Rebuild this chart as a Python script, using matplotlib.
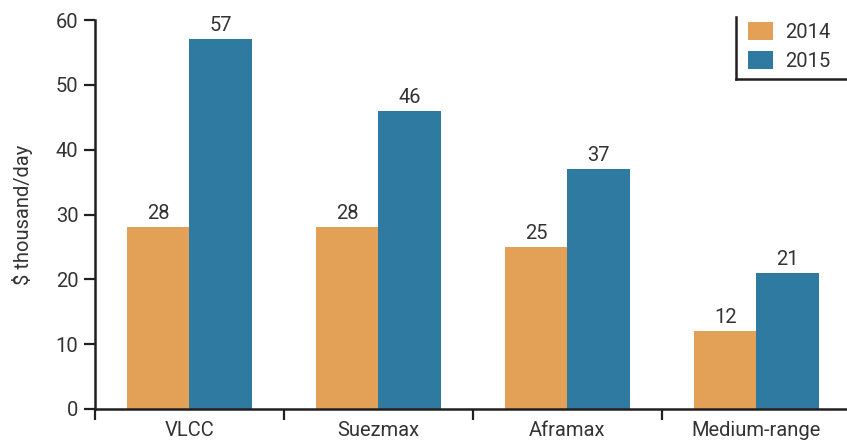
import matplotlib
matplotlib.use("Agg")
import matplotlib.pyplot as plt
from matplotlib.lines import Line2D
import numpy as np

categories = ["VLCC", "Suezmax", "Aframax", "Medium-range"]
series_names = ["2014", "2015"]
values_2014 = [28, 28, 25, 12]
values_2015 = [57, 46, 37, 21]
y_ticks = [0, 10, 20, 30, 40, 50, 60]

c2014 = "#E3A157"
c2015 = "#2E7AA1"
text_c = "#333333"
axis_c = "#231F20"
fs = 14.5

plt.rcParams["font.family"] = ["Liberation Sans Narrow", "Roboto", "DejaVu Sans"]

fig = plt.figure(figsize=(8.47, 4.43), dpi=100)
ax = fig.add_axes([95 / 847, 1 - 409 / 443, 1 - 95 / 847, (409 - 20) / 443])

x = np.arange(len(categories))
w = 0.33
b1 = ax.bar(x - w / 2, values_2014, w, color=c2014, label=series_names[0], zorder=2)
b2 = ax.bar(x + w / 2, values_2015, w, color=c2015, label=series_names[1], zorder=2)

for bars, vals in ((b1, values_2014), (b2, values_2015)):
    for rect, v in zip(bars, vals):
        ax.annotate(f"{v}", (rect.get_x() + rect.get_width() / 2, v),
                    xytext=(0, 3), textcoords="offset points",
                    ha="center", va="bottom", fontsize=fs, color=text_c)

ax.set_xlim(-0.5, 3.48)
ax.set_ylim(0, 60)
ax.set_yticks(y_ticks)
ax.set_yticklabels([str(t) for t in y_ticks], fontsize=fs, color=text_c)

# boundary ticks between categories, labels centred under each group
ax.set_xticks([-0.5, 0.5, 1.5, 2.5])
ax.set_xticklabels([])
ax.set_xticks(x, minor=True)
ax.set_xticklabels(categories, minor=True, fontsize=fs, color=text_c)
ax.tick_params(axis="x", which="minor", length=0, pad=9)
ax.tick_params(axis="x", which="major", length=8, width=1.6, color=axis_c, direction="out")
ax.tick_params(axis="y", length=8, width=1.6, color=axis_c, direction="out", pad=4)

for s in ("top", "right"):
    ax.spines[s].set_visible(False)
for s in ("left", "bottom"):
    ax.spines[s].set_linewidth(1.8)
    ax.spines[s].set_color(axis_c)

ax.set_ylabel("$ thousand/day", fontsize=fs, color=text_c, labelpad=16)

leg = fig.legend(handles=[b1, b2], labels=series_names, loc="upper left",
                 bbox_to_anchor=(748 / 847, 1 - 22 / 443), frameon=False,
                 fontsize=fs, handlelength=1.25, handleheight=1.0,
                 handletextpad=0.6, labelspacing=0.45, borderaxespad=0.0,
                 borderpad=0.0)
for t in leg.get_texts():
    t.set_color(text_c)

# partial frame around the legend: left and bottom edges only
lx, ly_top, ly_bot = 736 / 847, 1 - 17 / 443, 1 - 79 / 443
fig.add_artist(Line2D([lx, lx], [ly_top, ly_bot], transform=fig.transFigure,
                      color=axis_c, lw=1.8))
fig.add_artist(Line2D([lx, 1.0], [ly_bot, ly_bot], transform=fig.transFigure,
                      color=axis_c, lw=1.8))

fig.savefig("out.png", dpi=100)
